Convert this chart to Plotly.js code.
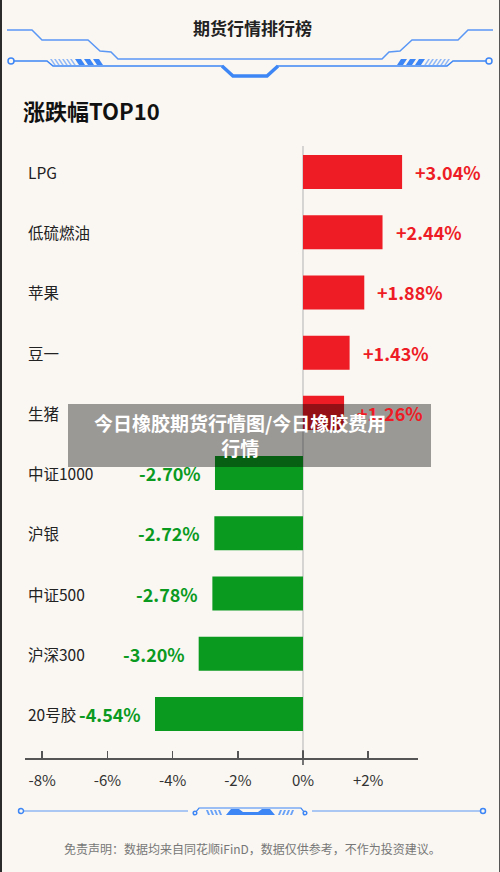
<!DOCTYPE html>
<html>
<head>
<meta charset="utf-8">
<script src="https://cdn.plot.ly/plotly-3.0.1.min.js"></script>
<style>
html,body{margin:0;padding:0;background:#faf7f2;}
#chart{width:500px;height:872px;}
</style>
</head>
<body>
<div id="chart"></div>
<script>
// ---- data ----
const categories = ['LPG','低硫燃油','苹果','豆一','生猪','中证1000','沪银','中证500','沪深300','20号胶'];
const changes = [3.04, 2.44, 1.88, 1.43, 1.26, -2.70, -2.72, -2.78, -3.20, -4.54];
const tickVals = [-8, -6, -4, -2, 0, 2];
const tickText = ['-8%', '-6%', '-4%', '-2%', '0%', '+2%'];
const headerTitle = '期货行情排行榜';
const chartTitle = '涨跌幅TOP10';
const overlayText = '今日橡胶期货行情图/今日橡胶费用<br>行情';
const disclaimer = '免责声明：数据均来自同花顺iFinD，数据仅供参考，不作为投资建议。';

// ---- layout helpers (pixel -> paper) ----
const W = 500, H = 872;
const L = 25, R = 418, T = 142, B = 758;
const px = x => (x - L) / (R - L);
const py = y => (B - y) / (B - T);
const FONT = '"Noto Sans CJK SC", "Noto Sans", sans-serif';
const BLUE = '#3d86f5';
const RED = '#ee1c25';
const GREEN = '#0a9a1f';

function pathOf(pts, close) {
  return 'M' + pts.map(p => px(p[0]).toFixed(5) + ',' + py(p[1]).toFixed(5)).join(' L') + (close ? ' Z' : '');
}
function line(pts, width, color) {
  return {type:'path', xref:'paper', yref:'paper', path: pathOf(pts, false),
          line:{color: color || BLUE, width: width}, layer:'above'};
}
function poly(pts, color) {
  return {type:'path', xref:'paper', yref:'paper', path: pathOf(pts, true),
          fillcolor: color || BLUE, line:{width:0}, layer:'above'};
}
function circle(cx, cy, r, color) {
  return {type:'circle', xref:'paper', yref:'paper',
          x0: px(cx - r), x1: px(cx + r), y0: py(cy + r), y1: py(cy - r),
          fillcolor:'#faf7f2', line:{color: color || BLUE, width:1.5}, layer:'above'};
}
const mirror = pts => pts.map(p => [W - p[0], p[1]]).reverse();

const shapes = [];
// header decoration: upper line
const upperLeft = [[7,30],[32,30],[42,40],[88,40],[100,51],[111,52],[118,59],[250,59]];
shapes.push(line(upperLeft.concat(mirror(upperLeft)), 1.5, '#5a97f5'));
// lower line with notch
const lowerLeft = [[14,61],[47,61],[53,66],[223,66]];
shapes.push(line(lowerLeft, 1.5));
shapes.push(line(mirror(lowerLeft), 1.5));
shapes.push(line([[222,66],[233,76],[267,76],[278,66]], 3.5));
shapes.push(circle(11, 61, 3));
shapes.push(circle(W - 11, 61, 3));
// hatched stripes
[50,54,58,62,66,70].forEach(x => {
  shapes.push(poly([[x,59],[x+1.8,59],[x+5.8,65],[x+4,65]], '#8fb8f8'));
  shapes.push(poly(mirror([[x,59],[x+1.8,59],[x+5.8,65],[x+4,65]]), '#8fb8f8'));
});
[75,84,93].forEach(x => {
  shapes.push(poly([[x,59],[x+6,59],[x+10,65],[x+4,65]]));
  shapes.push(poly(mirror([[x,59],[x+6,59],[x+10,65],[x+4,65]])));
});

// footer decoration
shapes.push(line([[21,811],[188,811]], 1.2, '#5a97f5'));
shapes.push(line([[312,811],[483,811]], 1.2, '#5a97f5'));
shapes.push(circle(21, 811, 2.5));
shapes.push(circle(483, 811, 2.5));
shapes.push(line([[195,813],[199,808],[301,808],[305,813]], 1.2));
shapes.push(circle(195, 813, 1.8));
shapes.push(circle(305, 813, 1.8));
shapes.push(poly([[226,815],[231,809],[239,809],[243,812],[258,812],[262,809],[270,809],[275,815]]));
[206,210,214,218].forEach(x => {
  shapes.push(poly([[x,810],[x+2,810],[x+4,815],[x+2,815]], '#6aa2f7'));
  shapes.push(poly(mirror([[x,810],[x+2,810],[x+4,815],[x+2,815]]), '#6aa2f7'));
});

// zero reference line
shapes.push({type:'line', xref:'x', yref:'paper', x0:0, x1:0, y0:py(765), y1:py(146),
             line:{color:'#c9c9c9', width:1.5}, layer:'below'});
shapes.push({type:'line', xref:'x', yref:'paper', x0:0, x1:0, y0:py(765), y1:py(750),
             line:{color:'#555', width:1.5}, layer:'above'});

// overlay box
shapes.push({type:'rect', xref:'paper', yref:'paper', x0:px(68), x1:px(431), y0:py(467), y1:py(404),
             fillcolor:'rgba(0,0,0,0.38)', line:{width:0}, layer:'above'});

// frame edges
shapes.push({type:'rect', xref:'paper', yref:'paper', x0:px(0), x1:px(2), y0:py(872), y1:py(0),
             fillcolor:'#2b2b2b', line:{width:0}, layer:'above'});
shapes.push({type:'rect', xref:'paper', yref:'paper', x0:px(499), x1:px(500), y0:py(872), y1:py(0),
             fillcolor:'#555', line:{width:0}, layer:'above'});

// ---- annotations ----
const annotations = [];
annotations.push({xref:'paper', yref:'paper', x:px(252), y:py(28), text:'<b>' + headerTitle + '</b>',
  showarrow:false, xanchor:'center', yanchor:'middle', font:{family:FONT, size:17, color:'#222'}});
annotations.push({xref:'paper', yref:'paper', x:px(21), y:py(110), text:'<b>' + chartTitle + '</b>',
  showarrow:false, xanchor:'left', yanchor:'middle', font:{family:FONT, size:22, color:'#111'}});
categories.forEach((c, i) => {
  annotations.push({xref:'paper', yref:'y', x:px(26), y:c, text:c, showarrow:false,
    xanchor:'left', yanchor:'middle', font:{family:FONT, size:15.5, color:'#222'}});
  const v = changes[i];
  annotations.push({xref:'x', yref:'y', x:v, y:c,
    text:'<b>' + (v > 0 ? '+' : '') + v.toFixed(2) + '%</b>', showarrow:false,
    xanchor: v > 0 ? 'left' : 'right', xshift: v > 0 ? 11 : -12, yanchor:'middle',
    font:{family:FONT, size:18, color: v > 0 ? RED : GREEN}});
});
annotations.push({xref:'paper', yref:'paper', x:px(240), y:py(435), text:'<b>' + overlayText + '</b>',
  showarrow:false, xanchor:'center', yanchor:'middle', align:'center',
  font:{family:FONT, size:19, color:'#ffffff'}});
annotations.push({xref:'paper', yref:'paper', x:px(252), y:py(848), text:disclaimer,
  showarrow:false, xanchor:'center', yanchor:'middle', font:{family:FONT, size:12, color:'#777'}});

// ---- trace ----
const trace = {
  type:'bar', orientation:'h', x: changes, y: categories, width: 0.565,
  marker:{color: changes.map(v => v > 0 ? RED : GREEN), line:{width:0}},
  hoverinfo:'none'
};

const layout = {
  width: W, height: H,
  margin:{l:L, r:W - R, t:T, b:H - B, pad:0},
  paper_bgcolor:'#faf7f2', plot_bgcolor:'#faf7f2',
  showlegend:false,
  font:{family:FONT},
  xaxis:{range:[-8.528, 3.528], tickvals:tickVals, ticktext:tickText,
         showgrid:false, zeroline:false, showline:true, linecolor:'#555', linewidth:1.5,
         ticks:'inside', ticklen:7, tickwidth:1.5, tickcolor:'#555',
         ticklabelstandoff:8,
         tickfont:{family:FONT, size:15, color:'#333'}, fixedrange:true},
  yaxis:{type:'category', range:[9.731, -0.498], showticklabels:false, showgrid:false,
         zeroline:false, showline:false, ticks:'', fixedrange:true},
  shapes: shapes,
  annotations: annotations
};

Plotly.newPlot('chart', [trace], layout, {displayModeBar:false, staticPlot:true});
</script>
</body>
</html>
